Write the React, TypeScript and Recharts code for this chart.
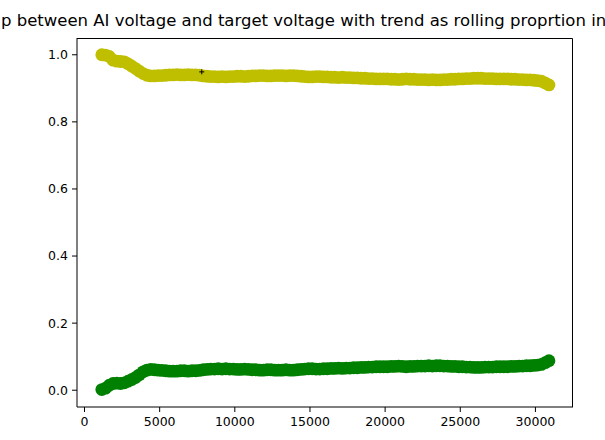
import { ScatterChart, Scatter, XAxis, YAxis } from 'recharts';

// sample positions (x) shared by both rolling-proportion series
const sampleX = [
  1150, 1400, 1650, 1900, 2150, 2400, 2650, 2900, 3150, 3400,
  3650, 3900, 4150, 4400, 4650, 4900, 5150, 5400, 5650, 5900,
  6150, 6400, 6650, 6900, 7150, 7400, 7650, 7900, 8150, 8400,
  8650, 8900, 9150, 9400, 9650, 9900, 10150, 10400, 10650, 10900,
  11150, 11400, 11650, 11900, 12150, 12400, 12650, 12900, 13150, 13400,
  13650, 13900, 14150, 14400, 14650, 14900, 15150, 15400, 15650, 15900,
  16150, 16400, 16650, 16900, 17150, 17400, 17650, 17900, 18150, 18400,
  18650, 18900, 19150, 19400, 19650, 19900, 20150, 20400, 20650, 20900,
  21150, 21400, 21650, 21900, 22150, 22400, 22650, 22900, 23150, 23400,
  23650, 23900, 24150, 24400, 24650, 24900, 25150, 25400, 25650, 25900,
  26150, 26400, 26650, 26900, 27150, 27400, 27650, 27900, 28150, 28400,
  28650, 28900, 29150, 29400, 29650, 29900, 30150, 30400, 30650, 30900,
];

// yellow band (upper)
const upperValues = [
  1.0, 0.999, 0.995, 0.984, 0.981, 0.98, 0.979, 0.973, 0.966, 0.959,
  0.951, 0.944, 0.939, 0.937, 0.937, 0.938, 0.938, 0.939, 0.94, 0.94,
  0.941, 0.94, 0.94, 0.941, 0.94, 0.94, 0.939, 0.937, 0.936, 0.935,
  0.935, 0.934, 0.935, 0.934, 0.935, 0.935, 0.936, 0.936, 0.935, 0.936,
  0.937, 0.937, 0.938, 0.938, 0.937, 0.937, 0.938, 0.938, 0.938, 0.937,
  0.938, 0.938, 0.937, 0.936, 0.935, 0.934, 0.934, 0.935, 0.935, 0.934,
  0.934, 0.933, 0.933, 0.932, 0.933, 0.932, 0.932, 0.931, 0.931, 0.93,
  0.93, 0.929, 0.929, 0.928, 0.928, 0.928, 0.928, 0.927, 0.927, 0.926,
  0.927, 0.928, 0.927, 0.927, 0.926, 0.926, 0.926, 0.925, 0.926, 0.925,
  0.925, 0.926, 0.926, 0.927, 0.927, 0.928, 0.928, 0.929, 0.929, 0.93,
  0.93, 0.93, 0.929, 0.929, 0.929, 0.928, 0.928, 0.928, 0.928, 0.927,
  0.927, 0.926, 0.926, 0.925, 0.925, 0.924, 0.923, 0.921, 0.916, 0.91,
];

// green band (lower)
const lowerValues = [
  0.002, 0.006, 0.015, 0.02, 0.021, 0.02, 0.022, 0.027, 0.032, 0.038,
  0.046, 0.055, 0.06, 0.062, 0.061, 0.06, 0.059, 0.058, 0.057, 0.057,
  0.057, 0.058, 0.058, 0.057, 0.058, 0.058, 0.059, 0.061, 0.062, 0.063,
  0.063, 0.064, 0.063, 0.064, 0.063, 0.063, 0.062, 0.062, 0.063, 0.062,
  0.061, 0.061, 0.06, 0.06, 0.061, 0.061, 0.06, 0.06, 0.06, 0.061,
  0.06, 0.06, 0.061, 0.062, 0.063, 0.064, 0.064, 0.063, 0.063, 0.064,
  0.064, 0.065, 0.065, 0.066, 0.065, 0.066, 0.066, 0.067, 0.067, 0.068,
  0.068, 0.069, 0.069, 0.07, 0.07, 0.07, 0.07, 0.071, 0.071, 0.072,
  0.071, 0.07, 0.071, 0.071, 0.072, 0.072, 0.072, 0.073, 0.072, 0.073,
  0.073, 0.072, 0.072, 0.071, 0.071, 0.07, 0.07, 0.069, 0.069, 0.068,
  0.068, 0.068, 0.069, 0.069, 0.069, 0.07, 0.07, 0.07, 0.07, 0.071,
  0.071, 0.072, 0.072, 0.073, 0.073, 0.074, 0.075, 0.077, 0.082, 0.088,
];

// the lone black marker
const markerX = [7800];
const markerY = [0.949];

const xTicks = [0, 5000, 10000, 15000, 20000, 25000, 30000];
const yTicks = [0, 0.2, 0.4, 0.6, 0.8, 1.0];

const upperData = sampleX.map((x, i) => ({ x, y: upperValues[i] }));
const lowerData = sampleX.map((x, i) => ({ x, y: lowerValues[i] }));
const markerData = markerX.map((x, i) => ({ x, y: markerY[i] }));

const FONT = 'DejaVu Sans, sans-serif';
const tickStyle = { fontSize: 12.5, fill: '#000', fontFamily: FONT };

const dot = (color: string) => (props: any) => (
  <circle cx={props.cx} cy={props.cy} r={6.4} fill={color} />
);

const plus = (props: any) => (
  <g stroke="#000" strokeWidth={1}>
    <line x1={props.cx - 2.5} y1={props.cy} x2={props.cx + 2.5} y2={props.cy} />
    <line x1={props.cx} y1={props.cy - 2.5} x2={props.cx} y2={props.cy + 2.5} />
  </g>
);

export default function App() {
  return (
    <div style={{ position: 'absolute', left: 0, top: 0, width: 605, height: 440, background: '#fff' }}>
      <ScatterChart width={605} height={440} margin={{ top: 38, right: 32, bottom: 0, left: 0 }}>
        <XAxis
          type="number"
          dataKey="x"
          domain={[-500, 32500]}
          ticks={xTicks}
          tick={tickStyle}
          tickSize={5}
          tickMargin={5}
          height={33}
          stroke="#000"
          allowDataOverflow
        />
        <YAxis
          type="number"
          dataKey="y"
          domain={[-0.05, 1.05]}
          ticks={yTicks}
          tickFormatter={(v: number) => v.toFixed(1)}
          tick={tickStyle}
          tickSize={5}
          tickMargin={4}
          width={77}
          stroke="#000"
          allowDataOverflow
        />
        <Scatter data={upperData} fill="#bfbf00" shape={dot('#bfbf00')} isAnimationActive={false} />
        <Scatter data={lowerData} fill="#008000" shape={dot('#008000')} isAnimationActive={false} />
        <Scatter data={markerData} fill="#000" shape={plus} isAnimationActive={false} />
      </ScatterChart>
      <svg width={605} height={440} style={{ position: 'absolute', left: 0, top: 0, pointerEvents: 'none' }}>
        {/* top and right spines */}
        <path d="M77 38.5 H572.5 V407" stroke="#000" strokeWidth={1} fill="none" />
        <text x={1} y={26} fontSize={16.5} fontFamily={FONT} fill="#000">
          p between AI voltage and target voltage with trend as rolling proprtion in
        </text>
      </svg>
    </div>
  );
}
